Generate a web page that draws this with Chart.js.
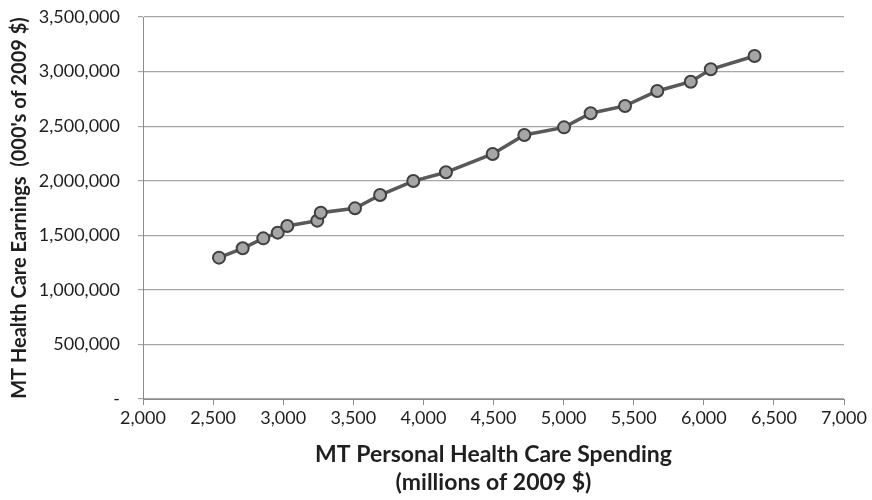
<!DOCTYPE html>
<html>
<head>
<meta charset="utf-8">
<script src="https://cdn.jsdelivr.net/npm/chart.js@4"></script>
<style>
  html, body { margin: 0; padding: 0; background: #ffffff; }
  #wrap { width: 872px; height: 500px; position: relative; }
</style>
</head>
<body>
<div id="wrap"><canvas id="c" width="872" height="500"></canvas></div>
<script>
// Data
const spending = [2542, 2711, 2858, 2961, 3029, 3243, 3268, 3512, 3691, 3928, 4161, 4494, 4720, 5003, 5193, 5438, 5668, 5907, 6050, 6362];
const earnings = [1295000, 1381000, 1472000, 1524000, 1585000, 1634000, 1707000, 1747000, 1869000, 1997000, 2077000, 2245000, 2419000, 2489000, 2618000, 2685000, 2822000, 2907000, 3021000, 3143000];
const xTicks = [2000, 2500, 3000, 3500, 4000, 4500, 5000, 5500, 6000, 6500, 7000];
const yTicks = [0, 500000, 1000000, 1500000, 2000000, 2500000, 3000000, 3500000];
const xTitle = ["MT Personal Health Care Spending", "(millions of 2009 $)"];
const yTitle = "MT Health Care Earnings  (000's of 2009 $)";

const points = spending.map((x, i) => ({ x: x, y: earnings[i] }));
const fmt = v => v === 0 ? '-' : v.toLocaleString('en-US');
const FONT = "Lato, Carlito, Calibri, 'Noto Sans', sans-serif";
const textColor = '#1f1f1f';

new Chart(document.getElementById('c'), {
  type: 'scatter',
  data: {
    datasets: [{
      data: points,
      showLine: true,
      borderColor: '#595959',
      borderWidth: 3.5,
      pointRadius: 6,
      pointHoverRadius: 6,
      pointBackgroundColor: '#a6a6a6',
      pointBorderColor: '#404040',
      pointBorderWidth: 2,
      tension: 0
    }]
  },
  options: {
    responsive: false,
    animation: false,
    layout: { padding: { top: 17, right: 28, left: 0, bottom: 0 } },
    plugins: { legend: { display: false }, tooltip: { enabled: false } },
    scales: {
      x: {
        type: 'linear',
        min: 2000, max: 7000,
        afterBuildTicks: s => { s.ticks = xTicks.map(v => ({ value: v })); },
        afterFit: s => { s.height = 101; s.paddingLeft = 0; s.paddingRight = 0; },
        grid: { drawOnChartArea: false, drawTicks: true, tickLength: 6, color: '#8c8c8c', lineWidth: 1 },
        border: { display: true, color: '#8c8c8c', width: 1 },
        ticks: { callback: v => fmt(v), color: textColor, font: { family: FONT, size: 18 }, padding: 2, maxRotation: 0, autoSkip: false },
        title: { display: true, text: xTitle, color: textColor, font: { family: FONT, size: 23, weight: 'bold', lineHeight: 1.217 }, padding: { top: 0, bottom: 3 } }
      },
      y: {
        min: 0, max: 3500000,
        afterBuildTicks: s => { s.ticks = yTicks.map(v => ({ value: v })); },
        afterFit: s => { s.width = 143; s.paddingTop = 0; s.paddingBottom = 0; },
        grid: { drawOnChartArea: true, drawTicks: true, tickLength: 5, color: '#a6a6a6', lineWidth: 1.2 },
        border: { display: true, color: '#8c8c8c', width: 1 },
        ticks: { callback: v => fmt(v), color: textColor, font: { family: FONT, size: 18 }, padding: 18 },
        title: { display: true, text: yTitle, color: textColor, font: { family: FONT, size: 20, weight: 'bold', lineHeight: 1.2 }, padding: { top: 8, bottom: 0 } }
      }
    }
  }
});
</script>
</body>
</html>
